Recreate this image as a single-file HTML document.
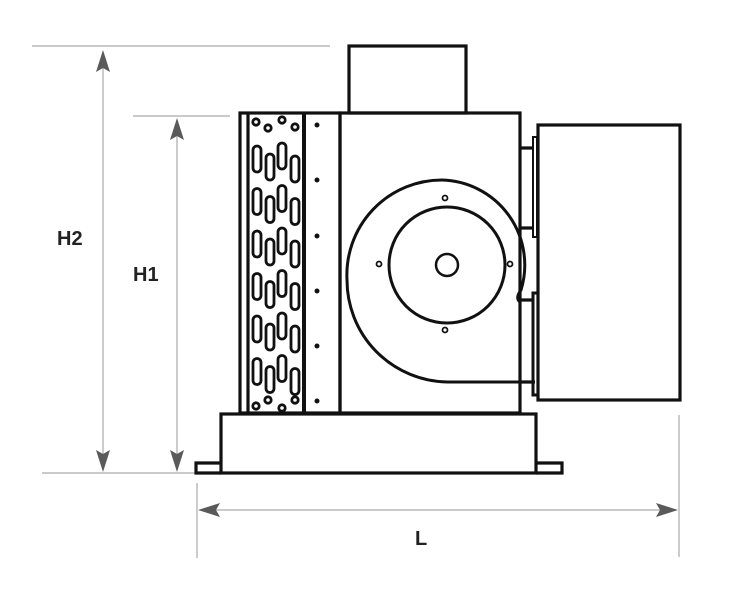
<!DOCTYPE html>
<html><head><style>html,body{margin:0;padding:0;background:#fff;}svg{display:block}</style></head>
<body>
<svg width="732" height="600" viewBox="0 0 732 600" xmlns="http://www.w3.org/2000/svg">
<defs>
<path id="au" d="M0,0 L7,22 L0,18 L-7,22 Z" fill="#5a5a5a"/>
</defs>
<g stroke="#aaa" stroke-width="1.2" fill="none">
<line x1="32" y1="46" x2="330" y2="46"/>
<line x1="42" y1="473" x2="195" y2="473"/>
<line x1="133" y1="116" x2="230" y2="116"/>
<line x1="103" y1="55" x2="103" y2="465"/>
<line x1="177" y1="122" x2="177" y2="465"/>
<line x1="197" y1="483" x2="197" y2="558"/>
<line x1="679" y1="415" x2="679" y2="557"/>
<line x1="205" y1="510" x2="672" y2="510"/>
</g>
<use href="#au" transform="translate(103,50)"/>
<use href="#au" transform="translate(103,472) rotate(180)"/>
<use href="#au" transform="translate(177,118)"/>
<use href="#au" transform="translate(177,472) rotate(180)"/>
<use href="#au" transform="translate(198,510) rotate(-90)"/>
<use href="#au" transform="translate(678,510) rotate(90)"/>
<g font-family="Liberation Sans, sans-serif" font-weight="bold" font-size="20" fill="#222">
<text x="57" y="245">H2</text>
<text x="133" y="281">H1</text>
<text x="415" y="545">L</text>
</g>
<g stroke="#111" stroke-width="3.2" fill="none">
<rect x="349" y="46" width="117" height="67"/>
<rect x="340" y="113" width="180" height="300"/>
<rect x="240" y="113" width="100" height="300"/>
<line x1="248" y1="113" x2="248" y2="413"/>
<line x1="304" y1="113" x2="304" y2="413" stroke-width="4"/>
<rect x="221" y="414" width="315" height="59"/>
<path d="M221,463 H196 V473 H221 M536,463 H562 V473 H536"/>
<rect x="538" y="125" width="142" height="275"/>
<path d="M520,148 H534 M520,228 H534 M520,300 H534 M520,382 H534"/>
<rect x="533" y="137" width="4" height="100" stroke-width="2"/>
<rect x="533" y="293" width="5" height="102" stroke-width="3"/>
<path d="M535,382 H447 A102,102 0 0 1 347,280 A95,95 0 0 1 442,180 A85,85 0 0 1 521,290 Q515,298 520,302" stroke-width="3"/>
<circle cx="447" cy="265" r="58" stroke-width="3"/>
<circle cx="447" cy="265" r="11" stroke-width="2.5"/>
<g stroke-width="1.8"><circle cx="445" cy="198" r="2.5"/><circle cx="445" cy="330" r="2.5"/><circle cx="379" cy="264" r="2.5"/><circle cx="510" cy="264" r="2.5"/></g>
</g>
<g fill="#111">
<circle cx="317" cy="125" r="2.5"/><circle cx="317" cy="180" r="2.5"/><circle cx="317" cy="236" r="2.5"/><circle cx="317" cy="291" r="2.5"/><circle cx="317" cy="346" r="2.5"/><circle cx="317" cy="401" r="2.5"/>
</g>
<g stroke="#111" stroke-width="2.8" fill="none">
<rect x="253" y="146" width="8" height="26" rx="4"/><rect x="266" y="154" width="8" height="26" rx="4"/><rect x="278" y="143" width="8" height="26" rx="4"/><rect x="291" y="156" width="8" height="26" rx="4"/>
<rect x="253" y="188.5" width="8" height="26" rx="4"/><rect x="266" y="196.5" width="8" height="26" rx="4"/><rect x="278" y="185.5" width="8" height="26" rx="4"/><rect x="291" y="198.5" width="8" height="26" rx="4"/>
<rect x="253" y="231" width="8" height="26" rx="4"/><rect x="266" y="239" width="8" height="26" rx="4"/><rect x="278" y="228" width="8" height="26" rx="4"/><rect x="291" y="241" width="8" height="26" rx="4"/>
<rect x="253" y="273.5" width="8" height="26" rx="4"/><rect x="266" y="281.5" width="8" height="26" rx="4"/><rect x="278" y="270.5" width="8" height="26" rx="4"/><rect x="291" y="283.5" width="8" height="26" rx="4"/>
<rect x="253" y="316" width="8" height="26" rx="4"/><rect x="266" y="324" width="8" height="26" rx="4"/><rect x="278" y="313" width="8" height="26" rx="4"/><rect x="291" y="326" width="8" height="26" rx="4"/>
<rect x="253" y="358.5" width="8" height="26" rx="4"/><rect x="266" y="366.5" width="8" height="26" rx="4"/><rect x="278" y="355.5" width="8" height="26" rx="4"/><rect x="291" y="368.5" width="8" height="26" rx="4"/>
<circle cx="256" cy="122" r="3.2"/><circle cx="268" cy="128" r="3.2"/><circle cx="282" cy="120" r="3.2"/><circle cx="295" cy="127" r="3.2"/>
<circle cx="256" cy="406" r="3.2"/><circle cx="268" cy="400" r="3.2"/><circle cx="282" cy="408" r="3.2"/><circle cx="295" cy="400" r="3.2"/>
</g>
</svg>
</body></html>
